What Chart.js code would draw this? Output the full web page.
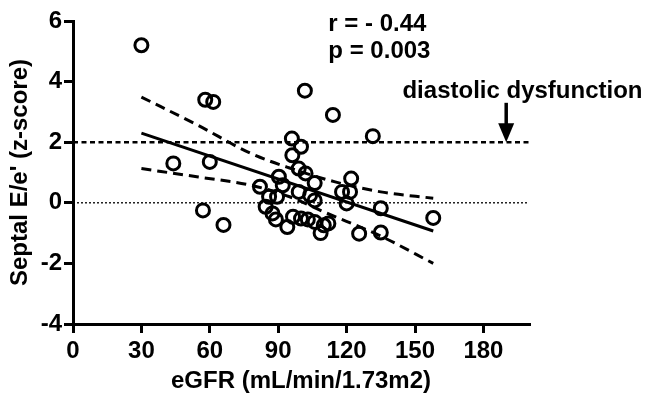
<!DOCTYPE html>
<html>
<head>
<meta charset="utf-8">
<script src="https://cdn.jsdelivr.net/npm/chart.js@4"></script>
<style>
    body { margin: 0; background: #fff; }
    #wrap { width: 646px; height: 393px; }
</style>
</head>
<body>
<div id="wrap"><canvas id="grafico"></canvas></div>
<script>
// eGFR vs septal E/e' z-score
const egfr = [30, 58, 61.5, 44, 60, 57, 66, 101.7, 114, 131.5, 158,
    96, 100, 96.2, 99, 102, 106, 90.3, 92, 82, 86, 89.5, 99, 104, 106,
    84.5, 87.5, 89, 94, 96.5, 100, 103, 106, 108.6, 112, 110,
    122, 118, 121.5, 120, 135, 125.5, 135];
const zscore = [5.2, 3.4, 3.33, 1.3, 1.35, -0.25, -0.73, 3.7, 2.9, 2.2, -0.5,
    2.12, 1.85, 1.57, 1.13, 0.97, 0.65, 0.86, 0.58, 0.53, 0.2, 0.2, 0.36, 0.25, 0.08,
    -0.13, -0.35, -0.55, -0.8, -0.46, -0.52, -0.55, -0.63, -1.0, -0.68, -0.74,
    0.8, 0.36, 0.36, -0.02, -0.18, -1.02, -0.98];

// regression line and 95% band
const fitX = [30, 158];
const fitY = [2.3, -0.93];
const upperX = [30, 55, 78, 95, 115, 135, 158];
const upperY = [3.49, 2.55, 1.63, 1.15, 0.69, 0.36, 0.15];
const lowerX = [30, 55, 78, 95, 110, 135, 158];
const lowerY = [1.13, 0.85, 0.58, 0.2, -0.3, -1.1, -2.0];

// reference lines
const refX = [0, 200];
const cutoff = 2;

const xTicks = [0, 30, 60, 90, 120, 150, 180];
const yTicks = [-4, -2, 0, 2, 4, 6];

// arrow + notes (data units)
const arrowX = 190, arrowTop = 3.3, arrowTip = 2.0;
const notas = [
    { text: "r = - 0.44", x: 112, y: 5.68 },
    { text: "p = 0.003", x: 112, y: 4.77 },
    { text: "diastolic dysfunction", x: 144.5, y: 3.46 }
];

const FONTE = "'Liberation Sans', Arial, sans-serif";

function pares(xs, ys) {
    return xs.map((v, i) => ({ x: v, y: ys[i] }));
}

const anotacoes = {
    id: "anotacoes",
    afterDatasetsDraw(chart) {
        const { ctx, scales: { x, y } } = chart;
        ctx.save();
        ctx.fillStyle = "#000";
        ctx.strokeStyle = "#000";
        ctx.font = "bold 24px " + FONTE;
        ctx.textAlign = "left";
        ctx.textBaseline = "alphabetic";
        notas.forEach(n => ctx.fillText(n.text, x.getPixelForValue(n.x), y.getPixelForValue(n.y)));

        const ax = x.getPixelForValue(arrowX);
        const top = y.getPixelForValue(arrowTop);
        const tip = y.getPixelForValue(arrowTip);
        const headLen = 19;
        ctx.lineWidth = 3.5;
        ctx.beginPath();
        ctx.moveTo(ax, top);
        ctx.lineTo(ax, tip - headLen + 2);
        ctx.stroke();
        ctx.beginPath();
        ctx.moveTo(ax - 8, tip - headLen);
        ctx.lineTo(ax + 8, tip - headLen);
        ctx.lineTo(ax, tip);
        ctx.closePath();
        ctx.fill();
        ctx.restore();
    }
};

const ctx = document.getElementById("grafico").getContext("2d");
new Chart(ctx, {
    type: "scatter",
    data: {
        datasets: [
            {
                data: pares(egfr, zscore),
                pointRadius: 6.5,
                pointHoverRadius: 6.5,
                pointBorderWidth: 3,
                pointBorderColor: "#000",
                pointBackgroundColor: "rgba(0,0,0,0)",
                order: 1
            },
            {
                data: pares(fitX, fitY),
                showLine: true,
                borderColor: "#000",
                borderWidth: 3,
                pointRadius: 0,
                order: 2
            },
            {
                data: pares(upperX, upperY),
                showLine: true,
                borderColor: "#000",
                borderWidth: 3,
                borderDash: [10, 6],
                cubicInterpolationMode: "monotone",
                pointRadius: 0,
                order: 3
            },
            {
                data: pares(lowerX, lowerY),
                showLine: true,
                borderColor: "#000",
                borderWidth: 3,
                borderDash: [10, 6],
                cubicInterpolationMode: "monotone",
                pointRadius: 0,
                order: 4
            },
            {
                data: refX.map(v => ({ x: v, y: cutoff })),
                showLine: true,
                borderColor: "#000",
                borderWidth: 2.5,
                borderDash: [5, 3.5],
                pointRadius: 0,
                order: 5
            },
            {
                data: refX.map(v => ({ x: v, y: 0 })),
                showLine: true,
                borderColor: "#000",
                borderWidth: 1.3,
                borderDash: [2, 2],
                pointRadius: 0,
                order: 6
            }
        ]
    },
    options: {
        responsive: true,
        maintainAspectRatio: false,
        animation: false,
        devicePixelRatio: 1,
        layout: { padding: { left: 0, right: 117, top: 21, bottom: 0 } },
        plugins: {
            legend: { display: false },
            tooltip: { enabled: false }
        },
        scales: {
            x: {
                type: "linear",
                min: 0,
                max: 200,
                afterBuildTicks: axis => { axis.ticks = xTicks.map(v => ({ value: v })); },
                afterFit: axis => { axis.height = 69; },
                grid: { drawOnChartArea: false, drawTicks: true, tickLength: 9, color: "#000", lineWidth: 3 },
                border: { display: true, color: "#000", width: 3 },
                ticks: { color: "#000", padding: 4, maxRotation: 0, font: { family: FONTE, size: 24, weight: "bold" } },
                title: {
                    display: true,
                    text: "eGFR (mL/min/1.73m2)",
                    color: "#000",
                    padding: { top: 0, bottom: 0 },
                    font: { family: FONTE, size: 24, weight: "bold", lineHeight: 1 }
                }
            },
            y: {
                type: "linear",
                min: -4,
                max: 6,
                afterBuildTicks: axis => { axis.ticks = yTicks.map(v => ({ value: v })); },
                afterFit: axis => { axis.width = 73; },
                grid: { drawOnChartArea: false, drawTicks: true, tickLength: 9, color: "#000", lineWidth: 3 },
                border: { display: true, color: "#000", width: 3 },
                ticks: { color: "#000", padding: 2, font: { family: FONTE, size: 24, weight: "bold" } },
                title: {
                    display: true,
                    text: "Septal E/e' (z-score)",
                    color: "#000",
                    padding: { top: 8, bottom: 0 },
                    font: { family: FONTE, size: 24, weight: "bold", lineHeight: 1 }
                }
            }
        }
    },
    plugins: [anotacoes]
});
</script>
</body>
</html>
